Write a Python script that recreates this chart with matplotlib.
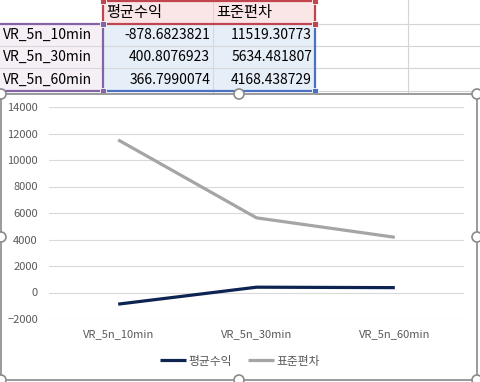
import matplotlib
matplotlib.use("Agg")
import matplotlib.pyplot as plt
from matplotlib.patches import Rectangle, Circle

plt.rcParams['font.family'] = ['Noto Sans CJK KR', 'DejaVu Sans']

# data from the sheet
categories = ['VR_5n_10min', 'VR_5n_30min', 'VR_5n_60min']
headers = ['평균수익', '표준편차']
mean_ret = [-878.6823821, 400.8076923, 366.7990074]
std_dev = [11519.30773, 5634.481807, 4168.438729]
mean_txt = ['-878.6823821', '400.8076923', '366.7990074']
std_txt = ['11519.30773', '5634.481807', '4168.438729']

W, H = 480, 382
fig = plt.figure(figsize=(W / 100, H / 100), dpi=100)

# background "sheet" layer in pixel coordinates
bg = fig.add_axes([0, 0, 1, 1])
bg.set_xlim(0, W)
bg.set_ylim(H, 0)
bg.axis('off')

grid_c = '#d4d4d4'
row_y = [1, 24, 46, 68, 91]
col_x = [0, 103, 213, 315, 408]
for y in row_y[1:]:
    bg.plot([0, W], [y, y], color=grid_c, lw=0.8, zorder=1)
for x in col_x[1:]:
    bg.plot([x, x], [0, 93], color=grid_c, lw=0.8, zorder=1)

# cell fills
bg.add_patch(Rectangle((103, 1), 212, 23, facecolor='#fbe6e7', edgecolor='none', zorder=2))
bg.add_patch(Rectangle((0, 24), 103, 67, facecolor='#f6eff6', edgecolor='none', zorder=2))
bg.add_patch(Rectangle((103, 24), 212, 67, facecolor='#e6eef8', edgecolor='none', zorder=2))
for y in row_y[2:4]:
    bg.plot([0, 315], [y, y], color='#d8d8d8', lw=0.8, zorder=3)
bg.plot([213, 213], [1, 91], color='#d8d8d8', lw=0.8, zorder=3)

# range borders
red, purple, blue = '#c0454f', '#8463a6', '#4a72c0'
bg.add_patch(Rectangle((103, 1), 212, 23, facecolor='none', edgecolor=red, lw=1.6, zorder=4))
bg.plot([-2, 103, 103, -2], [24, 24, 91, 91], color=purple, lw=1.6, zorder=4)
bg.plot([103, 315, 315], [91, 91, 24], color=blue, lw=1.6, zorder=4)
for (x, y, c) in [(103, 1, red), (315, 1, red), (315, 24, red),
                  (103, 24, purple), (103, 91, purple), (315, 91, blue)]:
    bg.add_patch(Rectangle((x - 3, y - 3), 6, 6, facecolor=c, edgecolor='white', lw=0.6, zorder=5))

# cell texts
fs_cell = 10
for i, h in enumerate(headers):
    bg.text(col_x[i + 1] + 3, 13, h, fontsize=11, va='center', ha='left', color='#000000', zorder=6)
for r in range(3):
    yc = (row_y[r + 1] + row_y[r + 2]) / 2
    bg.text(3, yc, categories[r], fontsize=fs_cell, va='center', ha='left', zorder=6)
    bg.text(210, yc, mean_txt[r], fontsize=fs_cell, va='center', ha='right', zorder=6)
    bg.text(312, yc, std_txt[r], fontsize=fs_cell, va='center', ha='right', zorder=6)

# chart area
bg.add_patch(Rectangle((1, 94), 476, 286, facecolor='white', edgecolor='#9a9a9a', lw=1.4, zorder=7))
for (x, y) in [(1, 94), (239, 94), (477, 94), (1, 237), (477, 237), (1, 380), (239, 380), (477, 380)]:
    bg.add_patch(Circle((x, y), 5, facecolor='white', edgecolor='#8a8a8a', lw=1.2, zorder=8))

# plot area
ax = fig.add_axes([49 / W, 1 - 319 / H, (464 - 49) / W, (319 - 107) / H])
ax.set_facecolor('none')
x = range(len(categories))
ax.plot(x, mean_ret, color='#0d2352', lw=2.3, label=headers[0], solid_capstyle='butt', zorder=3)
ax.plot(x, std_dev, color='#a5a5a5', lw=2.3, label=headers[1], solid_capstyle='butt', zorder=3)
ax.set_xlim(-0.5, 2.5)
ax.set_ylim(-2000, 14000)
ax.set_yticks(range(-2000, 14001, 2000))
ax.set_xticks(list(x))
ax.set_xticklabels(categories)
ax.grid(axis='y', color='#d9d9d9', lw=0.8)
ax.set_axisbelow(True)
for s in ax.spines.values():
    s.set_visible(False)
ax.tick_params(length=0, labelsize=8, labelcolor='#595959')
ax.tick_params(axis='y', pad=8)
ax.tick_params(axis='x', pad=7)

fig.legend(loc='center', bbox_to_anchor=(0.5, 1 - 361 / H), ncol=2, frameon=False,
           fontsize=8.5, handlelength=2.2, handletextpad=0.2, columnspacing=1.3,
           labelcolor='#595959')

fig.savefig('out.png', dpi=100)
